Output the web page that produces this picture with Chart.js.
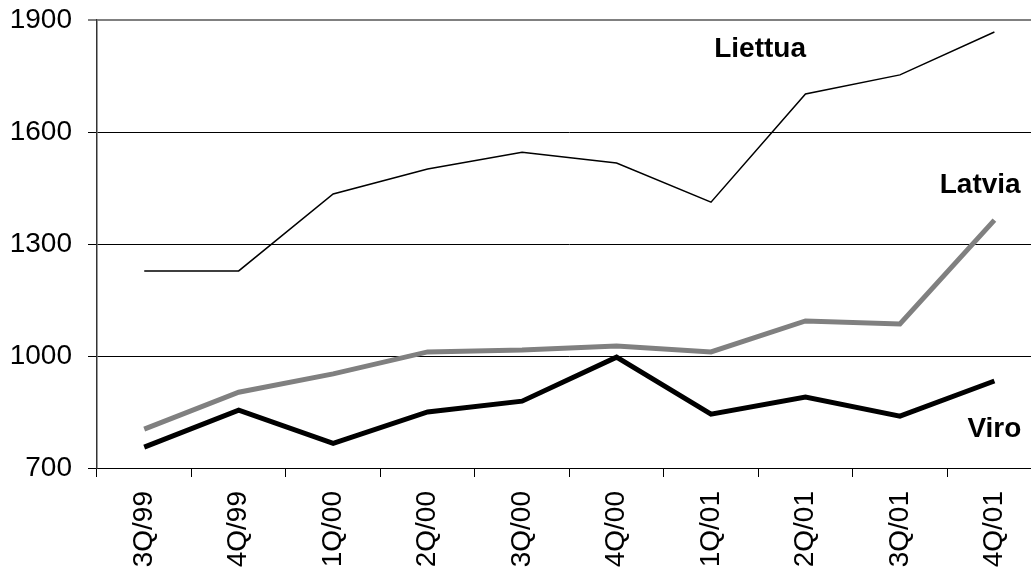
<!DOCTYPE html>
<html>
<head>
  <title>Liettua, Latvia, Viro</title>
  <style>
    html, body {
      margin: 0;
      padding: 0;
      background-color: #ffffff;
      overflow: hidden;
      width: 1031px;
      height: 575px;
    }
    #chart {
      display: block;
    }
  </style>
</head>
<body>
  <canvas id="chart" width="1042" height="575"></canvas>

<script src="https://cdn.jsdelivr.net/npm/chart.js"></script>
<script>
  // data
  var kvartaalit = ['3Q/99', '4Q/99', '1Q/00', '2Q/00', '3Q/00', '4Q/00', '1Q/01', '2Q/01', '3Q/01', '4Q/01'];
  var liettua = [1228, 1228, 1434, 1501, 1546, 1517, 1412, 1702, 1753, 1868];
  var latvia = [804, 903, 952, 1011, 1016, 1027, 1011, 1094, 1086, 1364];
  var viro = [756, 855, 766, 850, 879, 997, 844, 890, 839, 933];
  var yTicks = [700, 1000, 1300, 1600, 1900];

  // series names placed next to their lines: [name, category position, value]
  var nimet = [
    ['Liettua', 6.52, 1822],
    ['Latvia', 8.85, 1458],
    ['Viro', 9.0, 804]
  ];

  var fontti = 'Arial, "Liberation Sans", sans-serif';

  var nimiPlugin = {
    id: 'nimet',
    afterDatasetsDraw: function (chart) {
      var ctx = chart.ctx;
      var x = chart.scales.x;
      var y = chart.scales.y;
      ctx.save();
      ctx.font = 'bold 28px ' + fontti;
      ctx.fillStyle = '#000000';
      ctx.textAlign = 'center';
      ctx.textBaseline = 'middle';
      for (var i = 0; i < nimet.length; i++) {
        ctx.fillText(nimet[i][0], x.getPixelForValue(nimet[i][1]), y.getPixelForValue(nimet[i][2]));
      }
      ctx.restore();
    }
  };

  var config = {
    type: 'line',
    data: {
      labels: kvartaalit,
      datasets: [
        { label: 'Liettua', data: liettua, borderColor: '#000000', borderWidth: 1.5 },
        { label: 'Latvia', data: latvia, borderColor: '#808080', borderWidth: 5 },
        { label: 'Viro', data: viro, borderColor: '#000000', borderWidth: 5 }
      ]
    },
    options: {
      responsive: false,
      animation: false,
      devicePixelRatio: 1,
      layout: { padding: { top: 20, right: 0, left: 0, bottom: 0 } },
      elements: {
        point: { radius: 0 },
        line: { tension: 0, borderCapStyle: 'butt', borderJoinStyle: 'miter' }
      },
      plugins: {
        legend: { display: false },
        tooltip: { enabled: false }
      },
      scales: {
        x: {
          offset: true,
          grid: {
            offset: true,
            drawOnChartArea: false,
            drawTicks: true,
            tickLength: 9,
            color: '#000000'
          },
          border: { color: '#000000', width: 1 },
          ticks: {
            minRotation: 90,
            maxRotation: 90,
            padding: 14,
            color: '#000000',
            font: { family: fontti, size: 28 }
          },
          afterFit: function (scale) { scale.height = 107; }
        },
        y: {
          min: 700,
          max: 1900,
          afterBuildTicks: function (scale) {
            scale.ticks = yTicks.map(function (v) { return { value: v }; });
          },
          grid: {
            tickLength: 9,
            color: function (c) { return c.tick && c.tick.value === 1900 ? '#808080' : '#000000'; },
            lineWidth: function (c) { return c.tick && c.tick.value === 1900 ? 2 : 1; }
          },
          border: { color: '#333333', width: 1.5 },
          ticks: {
            padding: 16,
            color: '#000000',
            font: { family: fontti, size: 28 },
            callback: function (v) { return String(v); }
          },
          afterFit: function (scale) {
            scale.width = 97;
            scale.paddingTop = 0;
            scale.paddingBottom = 0;
          }
        }
      }
    },
    plugins: [nimiPlugin]
  };

  var kaavio = new Chart(document.getElementById('chart'), config);
</script>
</body>
</html>
